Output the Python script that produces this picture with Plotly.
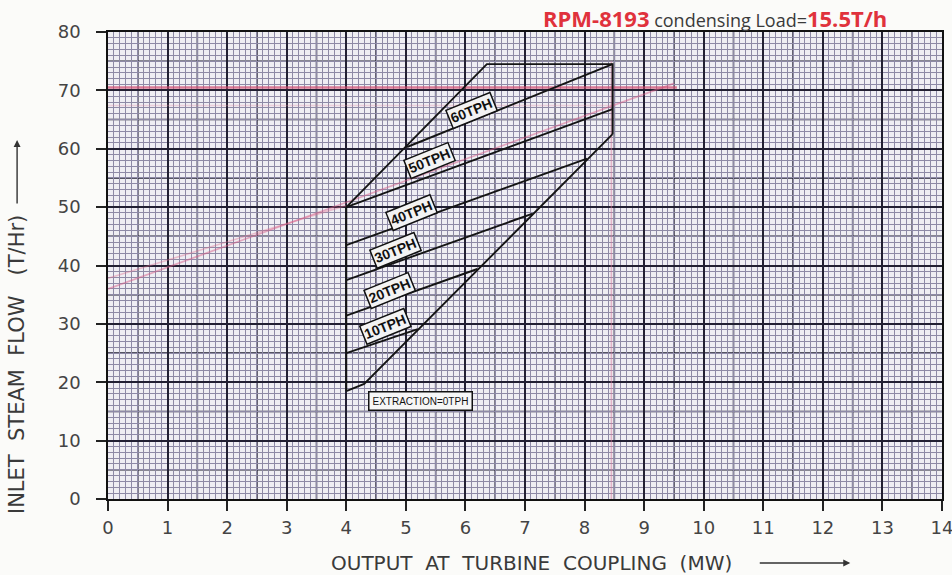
import numpy as np
import plotly.graph_objects as go

# ---------------- data ----------------
# zero-extraction line (EXTRACTION = 0TPH)
x_0tph = [4.0, 4.3, 8.47]
y_0tph = [18.5, 19.7, 62.5]

# constant-extraction lines
ext_names = ["10TPH", "20TPH", "30TPH", "40TPH", "50TPH", "60TPH"]
ext_x = [[4.0, 5.2], [4.0, 6.2], [4.0, 7.13], [4.0, 8.04], [4.0, 8.47], [5.02, 8.47]]
ext_y = [[25.0, 29.1], [31.4, 39.4], [37.5, 48.9], [43.5, 58.3], [50.0, 66.8], [60.3, 74.5]]

# label positions for extraction lines
lab_x = [4.65, 4.73, 4.82, 5.10, 5.40, 6.10]
lab_y = [29.5, 35.8, 42.6, 49.1, 58.0, 66.6]

# envelope: left boundary and maximum (upper) boundary
env_left_x = [4.0, 4.0]
env_left_y = [18.5, 50.0]
env_max_x = [4.0, 6.36, 8.47, 8.47]
env_max_y = [50.0, 74.5, 74.5, 62.5]

# red / pink hand-drawn marks
red_h_x = [0, 9.55]
red_h_y = [70.5, 70.5]
pink_h_x = [0, 8.45]
pink_h_y = [67.4, 67.4]
pink_d1_x = [0, 9.5]
pink_d1_y = [36.0, 71.2]
pink_d2_x = [0, 4.0]
pink_d2_y = [37.8, 50.3]
pink_v_x = [8.45, 8.45]
pink_v_y = [0, 75]

x_ticks = list(range(0, 15))
y_ticks = list(range(0, 90, 10))

# ---------------- figure ----------------
fig = go.Figure()

INK = "#141414"

def add_line(x, y, color=INK, width=1.9, opacity=1.0):
    fig.add_trace(go.Scatter(x=x, y=y, mode="lines", line=dict(color=color, width=width),
                             opacity=opacity, hoverinfo="skip", showlegend=False))

# red marks (underneath)
add_line(pink_v_x, pink_v_y, "#d77a9a", 1.6, 0.5)
add_line(pink_h_x, pink_h_y, "#e28aa5", 1.6, 0.3)
add_line(pink_d2_x, pink_d2_y, "#e07090", 1.6, 0.4)
add_line(pink_d1_x, pink_d1_y, "#d9608a", 1.8, 0.5)
add_line(red_h_x, red_h_y, "#d24a6e", 2.4, 0.7)

# chart lines
add_line(env_left_x, env_left_y)
add_line(env_max_x, env_max_y)
add_line(x_0tph, y_0tph)
for xs, ys in zip(ext_x, ext_y):
    add_line(xs, ys)

# bold half-division grid lines (graph paper)
shapes = []
for v in np.arange(0.5, 14, 1.0):
    shapes.append(dict(type="line", xref="x", yref="paper", x0=v, x1=v, y0=0, y1=1,
                       line=dict(color="#222032", width=1.5), layer="between"))
for v in np.arange(5, 80, 10):
    shapes.append(dict(type="line", xref="paper", yref="y", x0=0, x1=1, y0=v, y1=v,
                       line=dict(color="#222032", width=1.5), layer="between"))

annotations = []
lab_font = dict(family="Liberation Sans Narrow, Liberation Sans, Arial", size=14, color="#111")
for name, lx, ly in zip(ext_names, lab_x, lab_y):
    annotations.append(dict(x=lx, y=ly, xref="x", yref="y", text="<b>" + name + "</b>",
                            showarrow=False, textangle=-22, font=lab_font,
                            bgcolor="#f3f3f3", bordercolor="#111", borderwidth=1.5, borderpad=1))
annotations.append(dict(x=5.25, y=16.8, xref="x", yref="y", text="EXTRACTION=0TPH",
                        showarrow=False, font=dict(family="Liberation Sans Narrow, Liberation Sans, Arial",
                                                   size=10, color="#111"),
                        bgcolor="#f6f6f6", bordercolor="#111", borderwidth=1.5, borderpad=3))

# header
annotations.append(dict(x=0.936, y=1.03, xref="paper", yref="paper", xanchor="right", yanchor="middle",
                        showarrow=False,
                        text="<b><span style='color:#e0323c;font-size:22px'>RPM-8193</span></b>"
                             "<span style='color:#3a3a3a;font-size:18px'> condensing Load=</span>"
                             "<b><span style='color:#e0323c;font-size:22px'>15.5T/h</span></b>",
                        font=dict(family="Open Sans, Liberation Sans", size=18)))

# axis titles with arrows
title_font = dict(family="DejaVu Sans, Liberation Sans, Arial", size=20, color="#3a3a3a")
annotations.append(dict(x=0.508, y=-0.137, xref="paper", yref="paper", xanchor="center", yanchor="middle",
                        text="OUTPUT  AT  TURBINE  COUPLING  (MW)", showarrow=False, font=title_font))
annotations.append(dict(x=0.89, y=-0.137, xref="paper", yref="paper", ax=-92, ay=0,
                        axref="pixel", ayref="pixel", text="", showarrow=True,
                        arrowhead=2, arrowsize=1, arrowwidth=1.4, arrowcolor="#333"))
annotations.append(dict(x=-0.109, y=0.287, xref="paper", yref="paper", xanchor="center", yanchor="middle",
                        text="INLET  STEAM  FLOW   (T/Hr)", textangle=-90, showarrow=False,
                        font=dict(family="DejaVu Sans, Liberation Sans, Arial", size=21, color="#3a3a3a")))
annotations.append(dict(x=-0.109, y=0.769, xref="paper", yref="paper", ax=0, ay=65,
                        axref="pixel", ayref="pixel", text="", showarrow=True,
                        arrowhead=2, arrowsize=1, arrowwidth=1.4, arrowcolor="#333"))

tick_font = dict(family="DejaVu Sans, Liberation Sans, Arial", size=18, color="#444444")
fig.update_layout(
    width=952, height=575,
    margin=dict(l=108, r=10, t=32, b=76, autoexpand=False),
    paper_bgcolor="#fbfbf9",
    plot_bgcolor="#efeef3",
    showlegend=False,
    shapes=shapes,
    annotations=annotations,
    xaxis=dict(range=[0, 14], tickmode="array", tickvals=x_ticks, ticktext=[str(v) for v in x_ticks],
               showgrid=True, gridcolor="#222032", gridwidth=1.5,
               minor=dict(dtick=0.1, tick0=0, showgrid=True, gridcolor="#8e8aa6", gridwidth=1, ticks=""),
               ticks="outside", ticklen=10, tickwidth=1.5, tickcolor="#222",
               showline=True, linecolor="#111", linewidth=1.5, mirror=True, automargin=False,
               ticklabeloverflow="allow",
               zeroline=False, tickfont=tick_font, ticklabelstandoff=2, fixedrange=True),
    yaxis=dict(range=[0, 80], tickmode="array", tickvals=y_ticks, ticktext=[str(v) for v in y_ticks],
               showgrid=True, gridcolor="#222032", gridwidth=1.5,
               minor=dict(dtick=1, tick0=0, showgrid=True, gridcolor="#8e8aa6", gridwidth=1, ticks=""),
               ticks="outside", ticklen=10, tickwidth=1.5, tickcolor="#222",
               showline=True, linecolor="#111", linewidth=1.5, mirror=True, automargin=False,
               zeroline=False, tickfont=tick_font, ticklabelstandoff=12, fixedrange=True),
)

fig.write_html("out.html", config={"displayModeBar": False},
               post_script="document.body.style.margin='0';document.body.style.overflow='hidden';")
